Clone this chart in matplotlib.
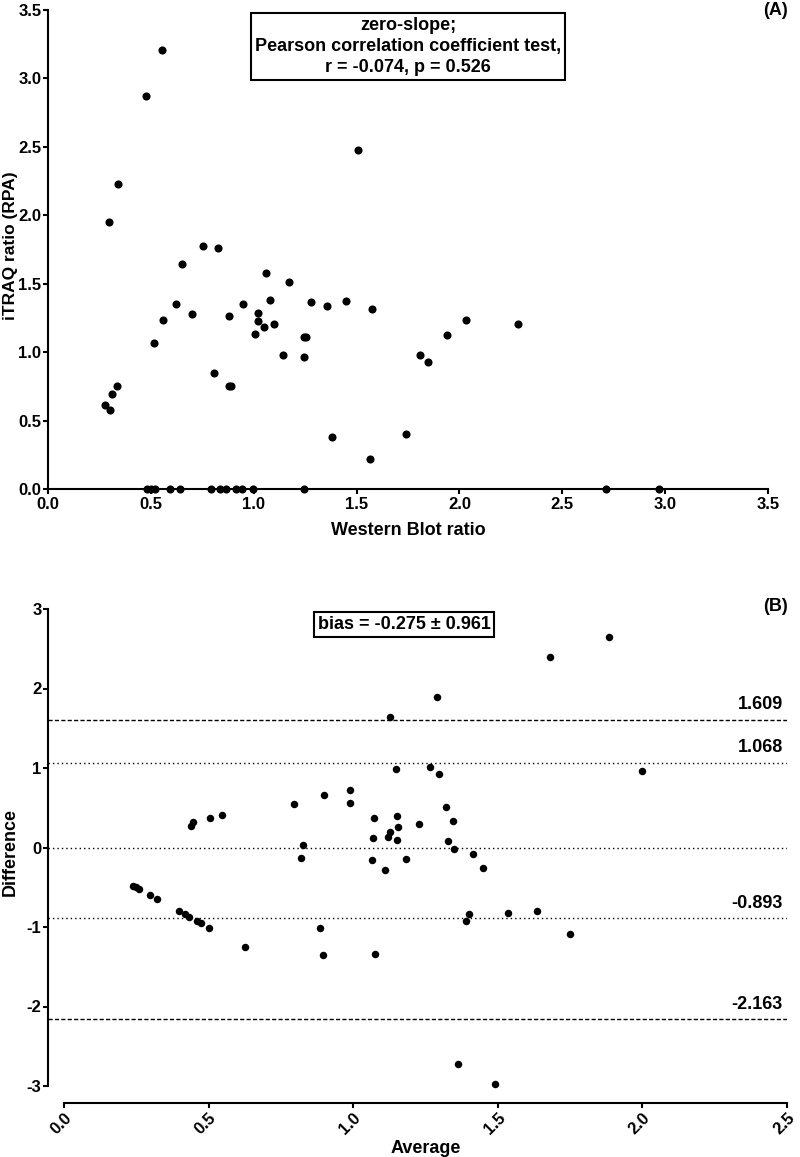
import matplotlib
matplotlib.use('Agg')
import matplotlib.pyplot as plt
import numpy as np

plt.rcParams['font.family'] = ['Liberation Sans', 'DejaVu Sans']
plt.rcParams['font.weight'] = 'bold'
plt.rcParams['axes.labelweight'] = 'bold'

# Panel A: Western Blot ratio vs iTRAQ ratio
wb_ratio = [0.553, 0.475, 0.342, 0.298, 0.650, 0.752, 0.828, 1.058, 1.170, 1.509,
            0.279, 0.303, 0.313, 0.335, 0.517, 0.559, 0.621, 0.699, 0.808, 0.878,
            0.878, 0.889, 0.949, 1.008, 1.019, 1.019, 1.052, 1.079, 1.099, 1.142,
            1.243, 1.256, 1.246, 1.280, 1.355, 1.447, 1.574, 1.382, 1.565, 2.031,
            2.285, 1.940, 1.808, 1.846, 1.740,
            0.480, 0.499, 0.520, 0.592, 0.640, 0.792, 0.836, 0.865, 0.914, 0.942,
            0.998, 1.246, 2.714, 2.969]
itraq_ratio = [3.209, 2.873, 2.232, 1.950, 1.643, 1.777, 1.758, 1.578, 1.514, 2.478,
               0.616, 0.574, 0.696, 0.755, 1.066, 1.234, 1.351, 1.276, 0.845, 1.261,
               0.755, 0.750, 1.349, 1.129, 1.283, 1.229, 1.186, 1.378, 1.205, 0.981,
               1.110, 1.110, 0.964, 1.368, 1.334, 1.373, 1.317, 0.382, 0.216, 1.237,
               1.207, 1.122, 0.981, 0.928, 0.405,
               0, 0, 0, 0, 0, 0, 0, 0, 0, 0,
               0, 0, 0, 0]

# Panel B: Bland-Altman
avg = [0.240, 0.248, 0.260, 0.297, 0.320, 0.399, 0.419, 0.433, 0.459, 0.473,
       0.501, 0.626, 0.884, 0.894, 1.076, 0.439, 0.447, 0.505, 0.547, 0.794,
       0.898, 0.988, 0.989, 0.827, 0.819, 1.073, 1.070, 1.122, 1.127, 1.152,
       1.155, 1.153, 1.066, 1.110, 1.183, 1.228, 1.126, 1.148, 1.290, 1.267,
       1.296, 1.322, 1.345, 1.327, 1.348, 1.413, 1.450, 1.399, 1.390, 1.534,
       1.637, 1.751, 1.885, 1.679, 2.000, 1.361, 1.490]
diff = [-0.486, -0.503, -0.528, -0.595, -0.650, -0.804, -0.842, -0.872, -0.922, -0.947,
        -1.010, -1.256, -1.010, -1.357, -1.344, 0.268, 0.327, 0.377, 0.410, 0.544,
        0.666, 0.724, 0.565, 0.029, -0.138, 0.377, 0.117, 0.129, 0.196, 0.393,
        0.259, 0.100, -0.163, -0.285, -0.147, 0.293, 1.646, 0.984, 1.888, 1.017,
        0.921, 0.510, 0.339, 0.079, -0.025, -0.084, -0.260, -0.834, -0.926, -0.829,
        -0.796, -1.089, 2.650, 2.393, 0.965, -2.722, -2.980]

limits_of_agreement = [1.609, -2.163]
inner_lines = [1.068, -0.893]
bias_text = 'bias = -0.275 \u00b1 0.961'
stats_text = 'zero-slope;\nPearson correlation coefficient test,\nr = -0.074, p = 0.526'

W, H = 800, 1157
fig = plt.figure(figsize=(W / 100, H / 100), dpi=100)
fig.patch.set_facecolor('white')


def px_axes(left, top, right, bottom):
    return fig.add_axes([left / W, 1 - bottom / H, (right - left) / W, (bottom - top) / H])


def style(ax):
    for s in ['top', 'right']:
        ax.spines[s].set_visible(False)
    for s in ['left', 'bottom']:
        ax.spines[s].set_linewidth(1.5)
    ax.tick_params(direction='out', length=3.5, width=1.5, labelsize=12, pad=2)
    ax.tick_params(axis='y', pad=1.2)
    for lab in ax.get_xticklabels() + ax.get_yticklabels():
        lab.set_fontweight('bold')


# ---- Panel A ----
axA = px_axes(48, 10, 768, 489)
axA.scatter(wb_ratio, itraq_ratio, s=34, color='black', zorder=3, clip_on=False, linewidths=0)
axA.set_xlim(0, 3.5)
axA.set_ylim(0, 3.5)
ticksA = np.arange(0, 3.51, 0.5)
axA.set_xticks(ticksA)
axA.set_yticks(ticksA)
axA.set_xticklabels(['%.1f' % t for t in ticksA])
axA.set_yticklabels(['%.1f' % t for t in ticksA])
style(axA)
axA.set_xlabel('Western Blot ratio', fontsize=13, fontweight='bold')
axA.set_ylabel('iTRAQ ratio (RPA)', fontsize=12.5, fontweight='bold')
axA.xaxis.set_label_coords(0.5, -0.068)
axA.yaxis.set_label_coords(-0.041, 0.507)
axA.text(0.5, 0.985, stats_text, transform=axA.transAxes, ha='center', va='top',
         fontsize=13, fontweight='bold', linespacing=1.3,
         bbox=dict(boxstyle='square,pad=0.22', facecolor='white', edgecolor='black', linewidth=1.5))
fig.text(788 / W, 1 - 2 / H, '(A)', ha='right', va='top', fontsize=13, fontweight='bold')

# ---- Panel B ----
axB = px_axes(48, 609, 787, 1086)
axB.scatter(avg, diff, s=29, color='black', zorder=3, clip_on=False, linewidths=0)
x0 = (48 - 64) / 289.3
axB.set_xlim(x0, 2.5)
axB.set_ylim(-3, 3)
for v in limits_of_agreement:
    axB.axhline(v, color='black', linewidth=1.0, linestyle=(0, (3, 1.6)), zorder=1)
for v in inner_lines + [0.0]:
    axB.axhline(v, color='black', linewidth=1.0, linestyle=(0, (1, 2.2)), zorder=1)
for v in limits_of_agreement + inner_lines:
    axB.annotate('%.3f' % v, xy=(2.485, v), xytext=(0, 5), textcoords='offset points',
                 ha='right', va='bottom', fontsize=13, fontweight='bold')
ticksBx = np.arange(0, 2.51, 0.5)
axB.set_xticks(ticksBx)
axB.set_xticklabels(['%.1f' % t for t in ticksBx])
axB.set_yticks(np.arange(-3, 4, 1))
axB.set_yticklabels(['%d' % t for t in np.arange(-3, 4, 1)])
style(axB)
axB.spines['bottom'].set_position(('outward', 12))
axB.spines['bottom'].set_bounds(0, 2.5)
axB.spines['left'].set_bounds(-3, 3)
plt.setp(axB.get_xticklabels(), rotation=45, ha='right', rotation_mode='anchor')
axB.set_xlabel('Average', fontsize=13, fontweight='bold')
axB.set_ylabel('Difference', fontsize=13, fontweight='bold')
axB.xaxis.set_label_coords(0.5115, -0.113)
axB.yaxis.set_label_coords(-0.039, 0.49)
axB.text(404 / W, 1 - 624.5 / H, bias_text, transform=fig.transFigure, ha='center', va='center',
         fontsize=13, fontweight='bold',
         bbox=dict(boxstyle='square,pad=0.2', facecolor='white', edgecolor='black', linewidth=1.5))
fig.text(788 / W, 1 - 598 / H, '(B)', ha='right', va='top', fontsize=13, fontweight='bold')

fig.savefig('out.png', dpi=100, facecolor='white')
